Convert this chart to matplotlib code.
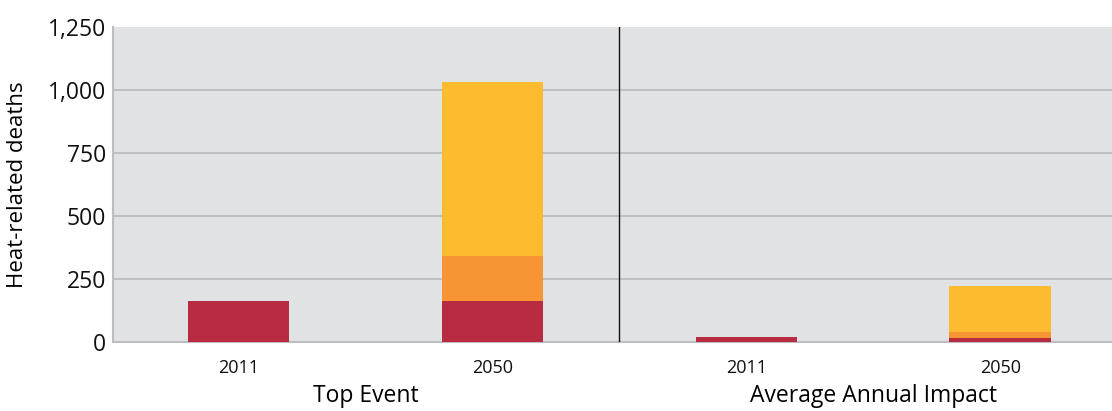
import matplotlib
matplotlib.use("Agg")
import matplotlib.pyplot as plt
import numpy as np
from matplotlib.transforms import blended_transform_factory

plt.rcParams['font.family'] = ['Open Sans', 'DejaVu Sans']

years = ["2011", "2050", "2011", "2050"]
groups = ["Top Event", "Average Annual Impact"]
red_vals = [164, 164, 21, 17]
orange_vals = [0, 179, 0, 24]
yellow_vals = [0, 691, 0, 182]
yticks = [0, 250, 500, 750, 1000, 1250]
ytick_labels = ["0", "250", "500", "750", "1,000", "1,250"]

c_red = "#B92B40"
c_orange = "#F79433"
c_yellow = "#FDBB30"

W, H = 1112, 411
fig = plt.figure(figsize=(W/100, H/100), dpi=100)
ax = fig.add_axes([113/W, 1 - 342.3/H, 1 - 113/W, (342.3 - 27.3)/H])
ax.set_facecolor("#E1E2E4")

x = np.arange(len(years))
red = np.array(red_vals)
orange = np.array(orange_vals)
yellow = np.array(yellow_vals)
bw = 0.4
ax.bar(x, red, bw, color=c_red, zorder=3)
ax.bar(x, orange, bw, bottom=red, color=c_orange, zorder=3)
ax.bar(x, yellow, bw, bottom=red + orange, color=c_yellow, zorder=3)

ax.set_xlim(-0.494, 3.44)
ax.set_ylim(0, 1250)
ax.set_yticks(yticks)
ax.set_yticklabels(ytick_labels, fontsize=16.5, color="#111111")
for yv in yticks[1:-1]:
    ax.axhline(yv, color="#BDBDBF", linewidth=1.3, zorder=1)
ax.set_xticks(x)
ax.set_xticklabels(years, fontsize=13, color="#111111")
ax.tick_params(axis='x', length=0, pad=12)
ax.tick_params(axis='y', length=0, pad=5)
for s in ["top", "right"]:
    ax.spines[s].set_visible(False)
ax.spines["left"].set_color("#BDBDBF")
ax.spines["left"].set_linewidth(1.5)
ax.spines["bottom"].set_color("#BDBDBF")
ax.spines["bottom"].set_linewidth(1.5)

ax.axvline(1.5, color="#111111", linewidth=1.0, zorder=4)

ax.set_ylabel("Heat-related deaths", fontsize=16)
ax.yaxis.set_label_coords(-(113 - 28) / (W - 113), 0.5)

tr = blended_transform_factory(ax.transData, fig.transFigure)
ax.text(0.5, 1 - 396/H, groups[0], transform=tr, ha="center", va="center", fontsize=16.5)
ax.text(2.5, 1 - 396/H, groups[1], transform=tr, ha="center", va="center", fontsize=16.5)

fig.savefig("out.png", dpi=100)
